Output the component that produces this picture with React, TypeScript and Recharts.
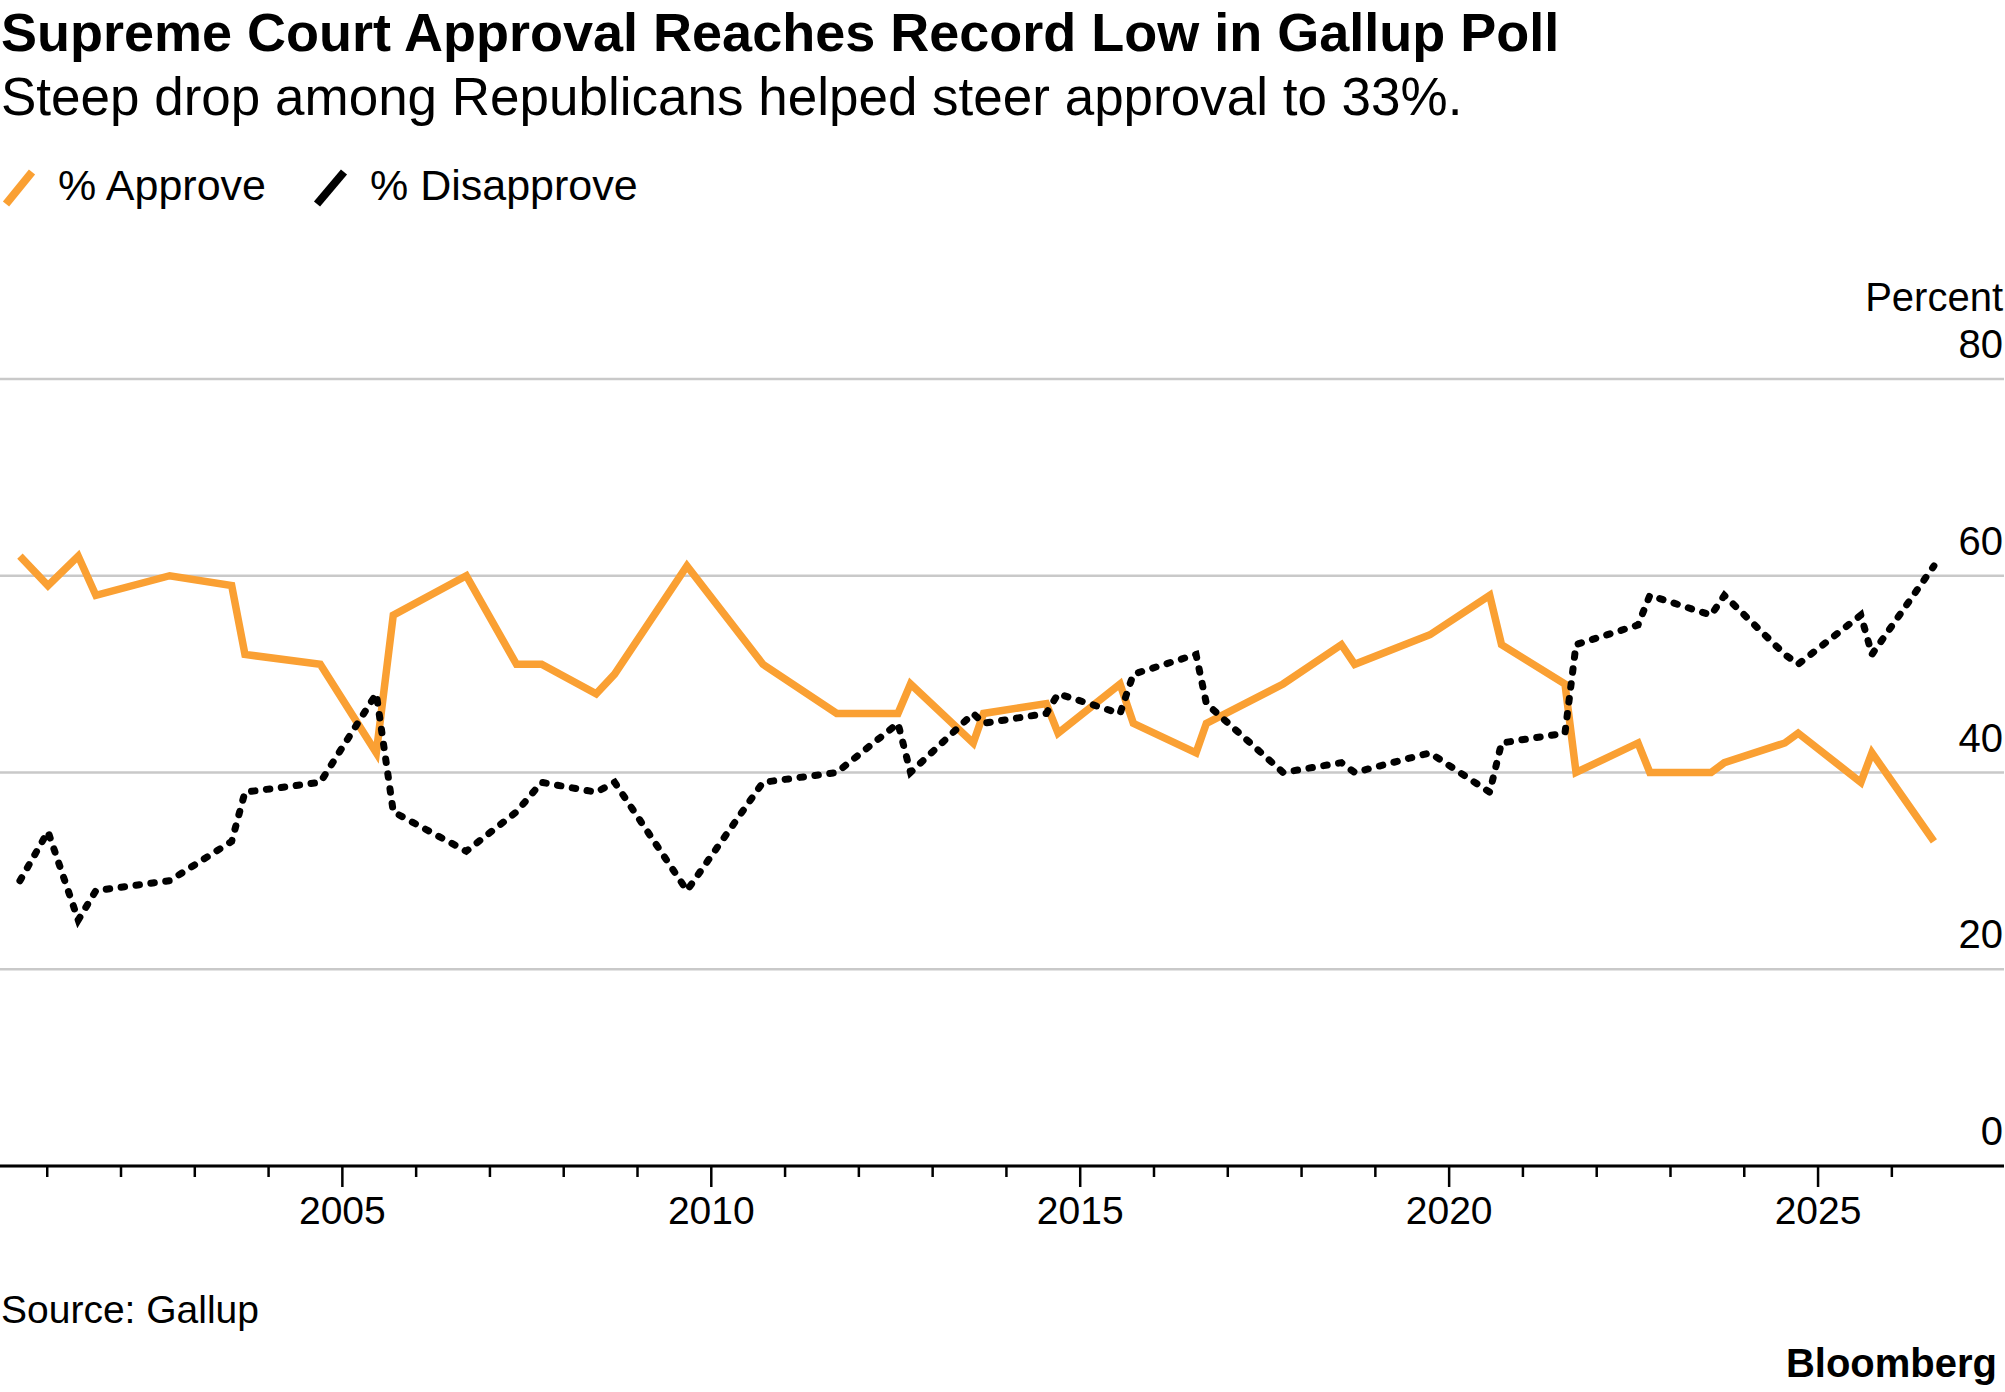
import React from 'react';
import { LineChart, Line, XAxis, YAxis, CartesianGrid } from 'recharts';

const W = 2005;
const H = 1392;
const FONT = '"Liberation Sans", Arial, Helvetica, sans-serif';

// Poll dates as fractional years
const pollDates = [
  2000.63, 2001.01, 2001.42, 2001.66, 2002.66, 2003.5, 2003.68, 2004.7, 2005.46, 2005.69,
  2006.68, 2007.36, 2007.7, 2008.44, 2008.69, 2009.67, 2010.7, 2011.7, 2012.53, 2012.7,
  2013.55, 2013.69, 2014.54, 2014.7, 2015.54, 2015.72, 2016.57, 2016.71, 2017.75, 2018.54,
  2018.72, 2019.74, 2020.55, 2020.71, 2021.57, 2021.72, 2022.56, 2022.72, 2023.55, 2023.73,
  2024.55, 2024.73, 2025.58, 2025.73, 2026.57,
];

const approvePct = [
  62, 59, 62, 58, 60, 59, 52, 51, 42, 56,
  60, 51, 51, 48, 50, 61, 51, 46, 46, 49,
  43, 46, 47, 44, 49, 45, 42, 45, 49, 53,
  51, 54, 58, 53, 49, 40, 43, 40, 40, 41,
  43, 44, 39, 42, 33,
];

const disapprovePct = [
  29, 34, 25, 28, 29, 33, 38, 39, 48, 36,
  32, 36, 39, 38, 39, 28, 39, 40, 45, 40,
  46, 45, 46, 48, 46, 50, 52, 47, 40, 41,
  40, 42, 38, 43, 44, 53, 55, 58, 56, 58,
  52, 51, 56, 52, 61,
];

const yearTicks = [
  2001, 2002, 2003, 2004, 2005, 2006, 2007, 2008, 2009, 2010, 2011, 2012, 2013,
  2014, 2015, 2016, 2017, 2018, 2019, 2020, 2021, 2022, 2023, 2024, 2025, 2026,
];
const labeledYears = [2005, 2010, 2015, 2020, 2025];
const percentTicks = [0, 20, 40, 60, 80];
const xDomain = [2000.36, 2027.52];
const yDomain = [0, 80];

const data = pollDates.map((d, i) => ({
  date: d,
  approve: approvePct[i],
  disapprove: disapprovePct[i],
}));

const ORANGE = '#FAA033';

const XTick = (props: any) => {
  const { x, y, payload } = props;
  const major = labeledYears.includes(payload.value);
  return (
    <g>
      <line x1={x} x2={x} y1={y} y2={y + (major ? 21 : 11)} stroke="#000" strokeWidth={2.5} />
      {major && (
        <text x={x} y={y + 58} textAnchor="middle" fontSize={39} fontFamily={FONT} fill="#000">
          {payload.value}
        </text>
      )}
    </g>
  );
};

const YTick = (props: any) => {
  const { y, payload } = props;
  return (
    <text x={W - 2} y={y - 21} textAnchor="end" fontSize={40} fontFamily={FONT} fill="#000">
      {payload.value}
    </text>
  );
};

export default function App() {
  return (
    <div style={{ position: 'absolute', left: 0, top: 0, width: W, height: H, background: '#fff' }}>
      <svg width={W} height={H} style={{ position: 'absolute', left: 0, top: 0 }}>
        <text x={1} y={51} fontSize={54} fontWeight="bold" fontFamily={FONT} fill="#000">
          Supreme Court Approval Reaches Record Low in Gallup Poll
        </text>
        <text x={1} y={115} fontSize={53} fontFamily={FONT} fill="#000">
          Steep drop among Republicans helped steer approval to 33%.
        </text>
        <line x1={6} y1={204} x2={32} y2={172} stroke={ORANGE} strokeWidth={8} />
        <text x={58} y={200} fontSize={43} fontFamily={FONT} fill="#000">
          % Approve
        </text>
        <line x1={317} y1={204} x2={344} y2={172} stroke="#000" strokeWidth={8} />
        <text x={370} y={200} fontSize={43} fontFamily={FONT} fill="#000">
          % Disapprove
        </text>
        <text x={W - 2} y={311} textAnchor="end" fontSize={40} fontFamily={FONT} fill="#000">
          Percent
        </text>
        <text x={1} y={1323} fontSize={39} fontFamily={FONT} fill="#000">
          Source: Gallup
        </text>
        <text x={W - 8} y={1377} textAnchor="end" fontSize={40} fontWeight="bold" fontFamily={FONT} fill="#000">
          Bloomberg
        </text>
      </svg>
      <div style={{ position: 'absolute', left: 0, top: 0 }}>
        <LineChart
          width={W}
          height={H}
          data={data}
          margin={{ top: 379, right: 0, bottom: 186, left: 0 }}
        >
          <CartesianGrid horizontal vertical={false} stroke="#c9c9c9" strokeWidth={2.5} />
          <XAxis
            dataKey="date"
            type="number"
            domain={xDomain}
            ticks={yearTicks}
            height={40}
            tickSize={0}
            tickMargin={0}
            tickLine={false}
            axisLine={{ stroke: '#000', strokeWidth: 3 }}
            tick={<XTick />}
            interval={0}
            allowDataOverflow
          />
          <YAxis
            orientation="right"
            width={1}
            domain={yDomain}
            ticks={percentTicks}
            axisLine={false}
            tickLine={false}
            tick={<YTick />}
            interval={0}
          />
          <Line
            type="linear"
            dataKey="approve"
            stroke={ORANGE}
            strokeWidth={7.5}
            dot={false}
            activeDot={false}
            isAnimationActive={false}
          />
          <Line
            type="linear"
            dataKey="disapprove"
            stroke="#000"
            strokeWidth={7}
            strokeDasharray="3.5 11.5"
            strokeLinecap="round"
            dot={false}
            activeDot={false}
            isAnimationActive={false}
          />
        </LineChart>
      </div>
    </div>
  );
}
